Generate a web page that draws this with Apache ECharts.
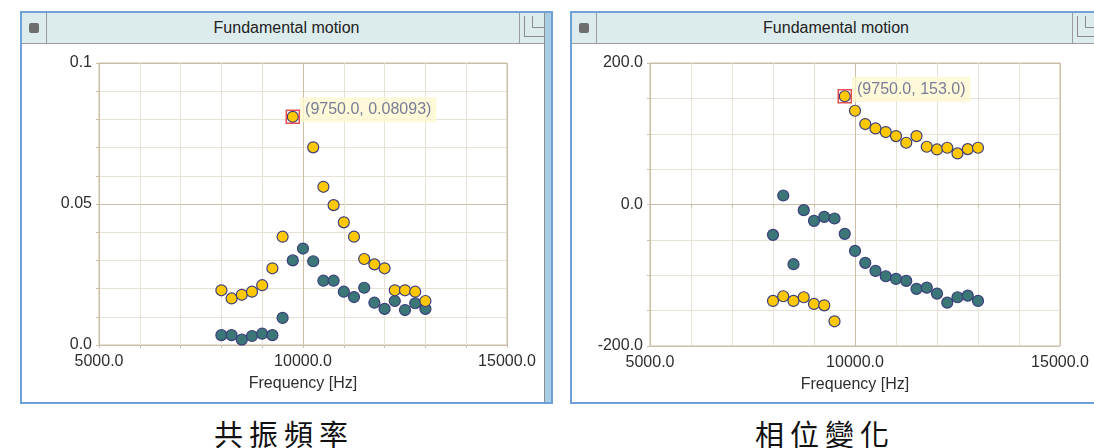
<!DOCTYPE html>
<html>
<head>
<meta charset="utf-8">
<script src="https://cdn.jsdelivr.net/npm/echarts@6/dist/echarts.min.js"></script>
<style>
  html, body { margin: 0; padding: 0; background: #fff; }
  body { width: 1094px; height: 448px; position: relative; overflow: hidden; font-family: "Liberation Sans", Arial, sans-serif; }
  .win { position: absolute; top: 11px; height: 393px; border: 2px solid #6fa0d8; box-sizing: border-box; background: #fff; }
  .bar { position: absolute; left: 0; right: 0; top: 0; height: 30px; background: #dcecec; border-bottom: 1px solid #9c9c9c; }
  .bar .title { position: absolute; left: 0; right: 0; top: 0; line-height: 30px; text-align: center; font-size: 16px; color: #222; }
  .bar .lbox { position: absolute; left: 0; top: 0; width: 24px; height: 30px; border-right: 1px solid #9c9c9c; }
  .bar .lbox i { position: absolute; left: 7px; top: 10px; width: 10px; height: 10px; border-radius: 2px; background: #6e6e6e; }
  .bar .rbox { position: absolute; top: 0; width: 30px; height: 30px; border-left: 1px solid #9c9c9c; }
  .bar .rbox .a { position: absolute; left: 4px; top: 3px; width: 20px; height: 20px; border: 1px solid #8c8c8c; border-top: none; border-right: none; }
  .bar .rbox .b { position: absolute; left: 12px; top: 3px; width: 12px; height: 11px; border: 1px solid #8c8c8c; border-top: none; border-right: none; }
  .strip { position: absolute; right: 0; top: 0; bottom: 0; width: 6px; background: #a9cde3; border-left: 1px solid #8d8d8d; }
  .cap { position: absolute; top: 412px; font-family: "Noto Sans CJK TC", sans-serif; font-size: 29px; letter-spacing: 6px; color: #111; white-space: nowrap; }
  #chart { position: absolute; left: 0; top: 0; width: 1094px; height: 448px; }
</style>
</head>
<body>
<div class="win" style="left:20px;width:533px;">
  <div class="bar">
    <div class="lbox"><i></i></div>
    <div class="title">Fundamental motion</div>
    <div class="rbox" style="left:497px;"><div class="a"></div><div class="b"></div></div>
  </div>
  <div class="strip"></div>
</div>
<div class="win" style="left:570px;width:540px;">
  <div class="bar">
    <div class="lbox"><i></i></div>
    <div class="title" style="right:8px;">Fundamental motion</div>
    <div class="rbox" style="left:500px;"><div class="a"></div><div class="b"></div></div>
  </div>
</div>
<div class="cap" style="left:214px;">共振頻率</div>
<div class="cap" style="left:755px;">相位變化</div>
<div id="chart"></div>
<script>
// frequency steps [Hz]
const freq = [8000, 8250, 8500, 8750, 9000, 9250, 9500, 9750, 10000, 10250, 10500,
  10750, 11000, 11250, 11500, 11750, 12000, 12250, 12500, 12750, 13000]

// left panel: amplitude
const ampYellow = [0.0194, 0.0165, 0.0178, 0.0189, 0.0212, 0.0272, 0.0384, 0.08093, '-', 0.0701, 0.0561,
  0.0496, 0.0435, 0.0384, 0.0305, 0.0286, 0.0272, 0.0194, 0.0194, 0.0189, 0.0156]
const ampTeal = [0.0035, 0.0035, 0.0019, 0.0032, 0.0040, 0.0035, 0.0096, 0.0300, 0.0342, 0.0297, 0.0228,
  0.0228, 0.0189, 0.0170, 0.0203, 0.0150, 0.0128, 0.0156, 0.0124, 0.0148, 0.0128]

// right panel: phase
const phaseYellow = [-136.3, -129.7, -136.3, -131.1, -140.6, -142.5, -165.1, 153.0, 132.5, 113.7, 107.5,
  102.4, 96.7, 87.3, 96.7, 81.6, 77.8, 80.2, 72.2, 78.3, 80.2]
const phaseTeal = [-42.9, 12.7, -84.4, -8.0, -23.1, -17.5, -19.8, -41.5, -65.6, -82.5, -93.9,
  -101.4, -105.2, -108.0, -119.3, -117.5, -125.9, -138.7, -131.1, -128.8, -136.3]

// picked point (shown with the yellow tooltip box)
const pickIndex = 7

const YELLOW = '#ffc800'
const TEAL = '#3b7777'
const EDGE = '#3a3f7c'
const MAJOR = '#cabea6'
const MINOR = '#e8e1d5'
const FONT = '"Liberation Sans", Arial, sans-serif'

const pairs = (vals) => freq.map((f, i) => [f, vals[i]])

function xAxisFor(gridIndex) {
  return {
    gridIndex,
    type: 'value',
    min: 5000,
    max: 15000,
    interval: 1000,
    name: 'Frequency [Hz]',
    nameLocation: 'middle',
    nameGap: 31,
    nameTextStyle: { color: '#2e2e2e', fontSize: 16, fontFamily: FONT },
    axisLine: { show: true, lineStyle: { color: MAJOR } },
    axisTick: { show: true, length: 3, lineStyle: { color: MAJOR } },
    axisLabel: {
      color: '#2e2e2e', fontSize: 16, fontFamily: FONT, margin: 9,
      showMinLabel: true, showMaxLabel: true, hideOverlap: false,
      formatter: v => (v % 5000 === 0 ? v.toFixed(1) : ''),
    },
    splitLine: { show: true, lineStyle: { color: [MAJOR, MINOR, MINOR, MINOR, MINOR], width: 1 } },
  }
}

function yAxisFor(gridIndex, min, max, interval, majorEvery, fmt) {
  const colors = [MAJOR]
  for (let i = 1; i < majorEvery; i++) colors.push(MINOR)
  return {
    gridIndex,
    type: 'value',
    min, max, interval,
    axisLine: { show: true, lineStyle: { color: MAJOR } },
    axisTick: { show: true, length: 3, lineStyle: { color: MAJOR } },
    axisLabel: {
      color: '#2e2e2e', fontSize: 16, fontFamily: FONT, margin: 7,
      showMinLabel: true, showMaxLabel: true, hideOverlap: false,
      formatter: fmt,
    },
    splitLine: { show: true, lineStyle: { color: colors, width: 1 } },
  }
}

function dots(name, xi, vals, color) {
  return {
    name, type: 'scatter', xAxisIndex: xi, yAxisIndex: xi,
    data: pairs(vals),
    symbol: 'circle', symbolSize: 11,
    itemStyle: { color, borderColor: EDGE, borderWidth: 1.2, opacity: 1 },
    silent: true,
  }
}

function pick(xi, vals, text) {
  return {
    type: 'scatter', xAxisIndex: xi, yAxisIndex: xi,
    data: [[freq[pickIndex], vals[pickIndex]]],
    symbol: 'rect', symbolSize: 13,
    itemStyle: { color: 'rgba(0,0,0,0)', borderColor: '#e3262b', borderWidth: 1.5 },
    label: {
      show: true, position: 'right', distance: 0, offset: [0, -7],
      formatter: text,
      color: '#585d86', fontSize: 16, fontFamily: FONT,
      backgroundColor: '#fdf8cf', padding: [5, 5, 4, 5],
    },
    silent: true, z: 5,
  }
}

const chart = echarts.init(document.getElementById('chart'), null, { renderer: 'canvas' })

chart.setOption({
  animation: false,
  backgroundColor: 'transparent',
  grid: [
    { left: 99, top: 63, width: 408, height: 282, show: true, borderColor: MAJOR, borderWidth: 1, backgroundColor: '#fff' },
    { left: 650, top: 63, width: 410, height: 283, show: true, borderColor: MAJOR, borderWidth: 1, backgroundColor: '#fff' },
  ],
  xAxis: [xAxisFor(0), xAxisFor(1)],
  yAxis: [
    yAxisFor(0, 0, 0.1, 0.01, 5, v => {
      if (Math.abs(v) < 1e-9) return '0.0'
      if (Math.abs(v - 0.05) < 1e-9) return '0.05'
      if (Math.abs(v - 0.1) < 1e-9) return '0.1'
      return ''
    }),
    yAxisFor(1, -200, 200, 50, 4, v => (v % 200 === 0 ? v.toFixed(1) : '')),
  ],
  series: [
    dots('amp-teal', 0, ampTeal, TEAL),
    dots('amp-yellow', 0, ampYellow, YELLOW),
    pick(0, ampYellow, p => `(${p.value[0].toFixed(1)}, ${p.value[1]})`),
    dots('phase-teal', 1, phaseTeal, TEAL),
    dots('phase-yellow', 1, phaseYellow, YELLOW),
    pick(1, phaseYellow, p => `(${p.value[0].toFixed(1)}, ${p.value[1].toFixed(1)})`),
  ],
})
</script>
</body>
</html>
